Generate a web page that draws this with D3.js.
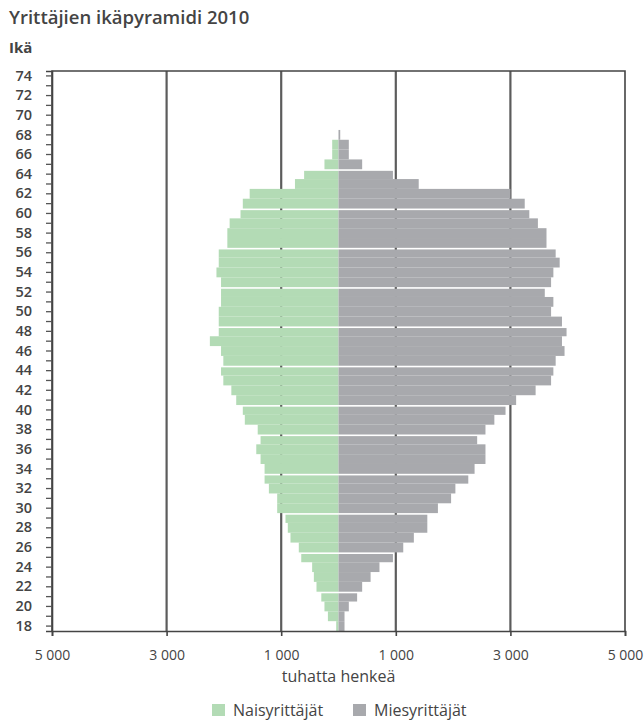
<!DOCTYPE html>
<html>
<head>
<meta charset="utf-8">
<script src="https://cdn.jsdelivr.net/npm/d3@7"></script>
<style>
  body { margin: 0; background: #fff; }
  svg { font-family: "Open Sans", "Noto Sans", sans-serif; }
</style>
</head>
<body>
<svg id="chart" width="644" height="724"></svg>
<script>
// ages 18..74
const ages = [18,19,20,21,22,23,24,25,26,27,28,29,30,31,32,33,34,35,36,37,38,39,40,41,42,43,44,45,46,
  47,48,49,50,51,52,53,54,55,56,57,58,59,60,61,62,63,64,65,66,67,68,69,70,71,72,73,74]
// naisyrittäjät / miesyrittäjät per age
const women = [40,185,245,300,384,430,460,650,693,838,885,925,1070,1070,1215,1290,1290,1360,1435,1360,
  1410,1635,1670,1785,1870,2010,2050,2010,2050,2245,2090,2090,2090,2050,2050,2050,2130,2090,2090,1940,
  1940,1900,1710,1670,1550,760,600,245,110,110,0,0,0,0,0,0,0]
const men = [105,105,180,325,413,560,715,950,1130,1315,1550,1550,1735,1965,2040,2265,2375,2565,2565,2420,
  2565,2720,2915,3100,3440,3710,3750,3790,3945,3900,3980,3900,3710,3750,3600,3710,3750,3860,3790,3630,
  3630,3480,3330,3250,3000,1400,950,413,180,180,30,0,0,0,0,0,0]
const xTicks = [-5000, -3000, -1000, 1000, 3000, 5000]
const yLabels = [18,20,22,24,26,28,30,32,34,36,38,40,42,44,46,48,50,52,54,56,58,60,62,64,66,68,70,72,74]
// thin white gaps seen in the original between some rows
const gapAges = [64, 60, 56, 52, 48, 44, 40, 37, 33, 29, 25, 21]

const svg = d3.select("#chart")
const green = "#b3dbb5", grey = "#a8a9ad", txt = "#444"

const x = d3.scaleLinear().domain([-5000, 5000]).range([52, 625])
const y = d3.scaleBand().domain(ages.slice().reverse()).range([71, 631]).padding(0)

// gridlines behind bars
svg.append("g").selectAll("line")
  .data([-3000, -1000, 1000, 3000])
  .join("line")
    .attr("x1", d => x(d)).attr("x2", d => x(d))
    .attr("y1", 71).attr("y2", 631)
    .attr("stroke", "#5c5c5c").attr("stroke-width", 2.2)

const rows = ages.map((a, i) => ({ age: a, w: women[i], m: men[i] }))
const gapOf = d => gapAges.includes(d.age) ? 1.6 : 0

svg.append("g").selectAll("rect")
  .data(rows.filter(d => d.w > 0))
  .join("rect")
    .attr("x", d => x(-d.w))
    .attr("width", d => x(0) - x(-d.w))
    .attr("y", d => y(d.age) + gapOf(d))
    .attr("height", d => y.bandwidth() - gapOf(d))
    .attr("fill", green)

svg.append("g").selectAll("rect")
  .data(rows.filter(d => d.m > 0))
  .join("rect")
    .attr("x", x(0))
    .attr("width", d => x(d.m) - x(0))
    .attr("y", d => y(d.age) + gapOf(d))
    .attr("height", d => y.bandwidth() - gapOf(d))
    .attr("fill", grey)

// frame
svg.append("path")
  .attr("d", `M${x(-5000)},631V71H${x(5000)}V631`)
  .attr("fill", "none").attr("stroke", "#444").attr("stroke-width", 1.6)

// y axis
const yAxis = svg.append("g")
  .attr("transform", `translate(${x(-5000)},0)`)
  .call(d3.axisLeft(y).tickSize(6).tickPadding(14)
    .tickFormat(d => yLabels.includes(d) ? d : ""))
yAxis.select(".domain").attr("stroke", "#444").attr("stroke-width", 1.6)
yAxis.selectAll(".tick line").attr("stroke", "#555").attr("stroke-width", 1.3)
yAxis.selectAll("text").attr("fill", txt).attr("font-size", 14.5).attr("font-weight", 600)
  .attr("font-family", "'Open Sans', sans-serif")

// x axis
const xAxis = svg.append("g")
  .attr("transform", "translate(0,631)")
  .call(d3.axisBottom(x).tickValues(xTicks).tickSize(5).tickPadding(14)
    .tickFormat(d => d3.format(",")(Math.abs(d)).replace(",", " ")))
xAxis.select(".domain").attr("stroke", "#444").attr("stroke-width", 1.6)
xAxis.selectAll(".tick line").attr("stroke", "#444").attr("stroke-width", 1.6)
xAxis.selectAll("text").attr("fill", txt).attr("font-size", 14)
  .attr("font-family", "'Open Sans', sans-serif")

svg.append("text").attr("x", x(0)).attr("y", 682).attr("text-anchor", "middle")
  .attr("fill", txt).attr("font-size", 16).text("tuhatta henkeä")

// titles
svg.append("text").attr("x", 9).attr("y", 24).attr("fill", txt)
  .attr("font-size", 18.5).attr("font-weight", 600).text("Yrittäjien ikäpyramidi 2010")
svg.append("text").attr("x", 9).attr("y", 53).attr("fill", txt)
  .attr("font-size", 15).attr("font-weight", "bold").text("Ikä")

// legend
const legend = svg.append("g").attr("transform", "translate(0,710)")
const items = [{ name: "Naisyrittäjät", color: green, x: 212 }, { name: "Miesyrittäjät", color: grey, x: 353 }]
items.forEach(it => {
  legend.append("rect").attr("x", it.x).attr("y", -6).attr("width", 13).attr("height", 12).attr("fill", it.color)
  legend.append("text").attr("x", it.x + 21).attr("y", 5.5).attr("fill", txt)
    .attr("font-size", 16).text(it.name)
})
</script>
</body>
</html>
